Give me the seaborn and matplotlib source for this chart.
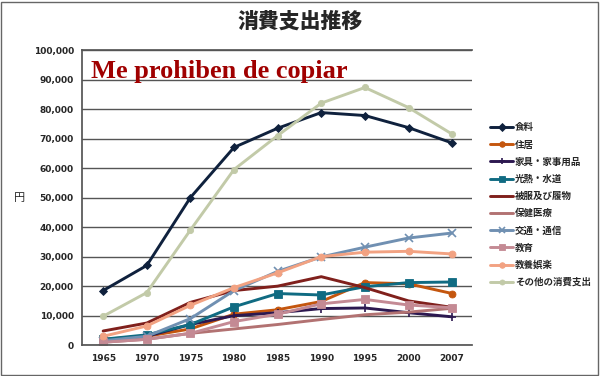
import matplotlib
matplotlib.use("Agg")
import matplotlib.pyplot as plt
import seaborn as sns
import pandas as pd

sns.set_theme(style="white")
plt.rcParams['font.family'] = ['Noto Sans CJK JP', 'DejaVu Sans']

years = ["1965", "1970", "1975", "1980", "1985", "1990", "1995", "2000", "2007"]
categories = ["食料", "住居", "家具・家事用品", "光熱・水道", "被服及び履物",
              "保健医療", "交通・通信", "教育", "教養娯楽", "その他の消費支出"]

food      = [18500, 27000, 50000, 67000, 73500, 78800, 77800, 73700, 68500]
housing   = [2000, 3000, 5500, 10500, 12000, 14800, 21200, 20800, 17500]
furniture = [1500, 3000, 7000, 10000, 11000, 12400, 12600, 11000, 9600]
utilities = [2000, 3500, 7000, 13000, 17500, 17000, 19800, 21200, 21400]
clothing  = [4800, 7500, 14500, 18500, 20000, 23200, 19500, 15000, 12800]
medical   = [1000, 2000, 4000, 5500, 7000, 8700, 10300, 11200, 12500]
transport = [1500, 3000, 9000, 18500, 25000, 29900, 33200, 36300, 38000]
education = [1000, 2000, 4000, 8000, 10500, 14000, 15500, 13600, 12700]
recreation = [3000, 6500, 13500, 19500, 24500, 30000, 31500, 31800, 30900]
other     = [9800, 17800, 39000, 59500, 71000, 82000, 87300, 80500, 71500]

series = [food, housing, furniture, utilities, clothing, medical, transport, education, recreation, other]
colors = ["#0f213d", "#c4560e", "#2c1850", "#106b82", "#80201c",
          "#b27272", "#7090b2", "#c48a94", "#f2a282", "#c2caa8"]
markers = ["D", "o", "+", "s", None, None, "x", "s", "o", "o"]
msizes = [4.5, 5, 6, 5.5, 0, 0, 6, 5.5, 5, 4.5]

rows = []
for cat, vals in zip(categories, series):
    for i, v in enumerate(vals):
        rows.append({"pos": i, "year": years[i], "cat": cat, "value": v})
df = pd.DataFrame(rows)

fig = plt.figure(figsize=(6, 3.76), dpi=100)
ax = fig.add_axes([0.137, 0.082, 0.65, 0.785])

for cat, col, mk, ms in zip(categories, colors, markers, msizes):
    sub = df[df["cat"] == cat]
    sns.lineplot(data=sub, x="pos", y="value", ax=ax, color=col, linewidth=2.1,
                 marker=mk if mk else None, markersize=ms,
                 markeredgecolor=col, markeredgewidth=1.2 if mk in ("+", "x") else 0.6,
                 label=cat, legend=False)

ax.set_xlim(-0.48, 8.46)
ax.set_ylim(0, 100000)
ax.set_yticks(range(0, 100001, 10000))
ax.set_yticklabels([f"{v:,}" for v in range(0, 100001, 10000)], fontsize=6.5,
                   fontweight="bold", family="DejaVu Sans")
ax.set_xticks(range(len(years)))
ax.set_xticklabels(years, fontsize=6.5, fontweight="bold", family="DejaVu Sans")
ax.yaxis.grid(True, color="#555555", linewidth=1)
ax.set_axisbelow(True)
ax.set_xlabel("")
ax.set_ylabel("円", rotation=0, fontsize=8, labelpad=10, va="center")
ax.spines["right"].set_visible(False)
for s in ["top", "left", "bottom"]:
    ax.spines[s].set_color("#555555")
ax.tick_params(axis="both", length=0, pad=6)

handles, labels = ax.get_legend_handles_labels()
leg = fig.legend(handles, labels, loc="upper left", bbox_to_anchor=(0.802, 0.697),
                 frameon=False, fontsize=6.8, handlelength=2.5, labelspacing=0.76,
                 handletextpad=0.15, markerscale=0.8)
for t in leg.get_texts():
    t.set_fontweight("bold")

fig.text(0.5, 0.942, "消費支出推移", ha="center", va="center", fontsize=15, fontweight="heavy")
fig.text(0.152, 0.81, "Me prohiben de copiar", ha="left", va="center", fontsize=19,
         fontweight="bold", color="#a00000", family=["Liberation Serif", "DejaVu Serif"])

fig.patches.append(plt.Rectangle((0.002, 0.003), 0.995, 0.993, transform=fig.transFigure,
                                 fill=False, edgecolor="#666666", linewidth=1))

fig.savefig("out.png", dpi=100)
